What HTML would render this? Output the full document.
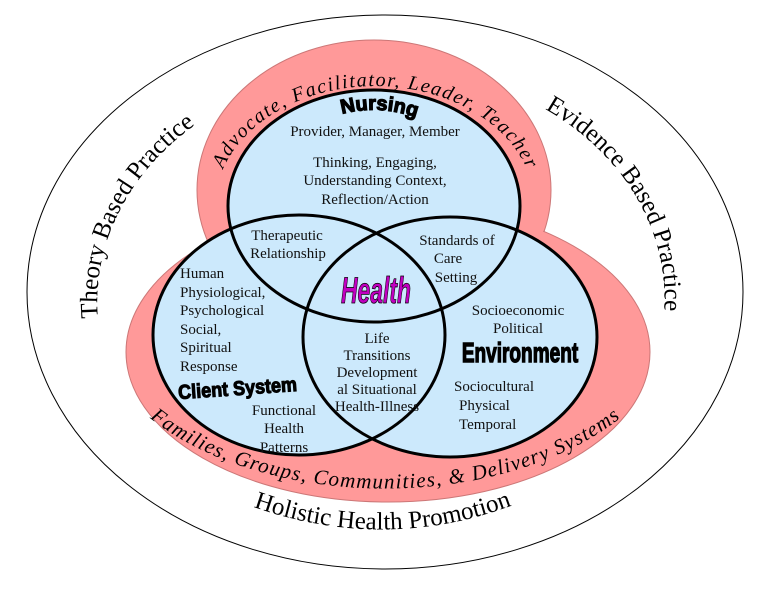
<!DOCTYPE html>
<html><head><meta charset="utf-8"><style>
html,body{margin:0;padding:0;background:#fff;}
svg{display:block;}
.t{font-family:"Liberation Serif",serif;font-size:15px;fill:#111;}
.s{font-family:"Liberation Serif",serif;font-style:italic;fill:#000;}
.o{font-family:"Liberation Serif",serif;font-size:25px;fill:#000;}
</style></head><body>
<svg width="757" height="601" viewBox="0 0 757 601" xmlns="http://www.w3.org/2000/svg">
<defs>
<path id="pAdv" d="M 217 188 A 160 121 0 0 1 533 188"/>
<path id="pTheory" d="M 102 345 A 285 235 0 0 1 218 110"/>
<path id="pEvid" d="M 528 100 A 275 230 0 0 1 662 330"/>
<path id="pHol" d="M 225 496 Q 385 564 540 494"/>
<path id="pFam" d="M 135 405 A 295 178 0 0 0 635 405"/>
<path id="pNur" d="M 330 118 Q 377 100 428 122"/>
</defs>
<ellipse cx="385" cy="292" rx="358" ry="277" fill="#fff" stroke="#000" stroke-width="1"/>
<ellipse cx="374" cy="190" rx="177" ry="150" fill="#f99" stroke="#c77" stroke-width="1"/>
<ellipse cx="388" cy="352" rx="262" ry="150" fill="#f99" stroke="#c77" stroke-width="1"/>
<ellipse cx="374" cy="190" rx="176" ry="149" fill="#f99"/>
<ellipse cx="374" cy="206" rx="146" ry="116" fill="#cce9fc"/>
<ellipse cx="299" cy="335" rx="146" ry="120" fill="#cce9fc"/>
<ellipse cx="450" cy="337" rx="147" ry="120" fill="#cce9fc"/>
<g fill="none" stroke="#000" stroke-width="3">
<ellipse cx="374" cy="206" rx="146" ry="116"/>
<ellipse cx="299" cy="335" rx="146" ry="120"/>
<ellipse cx="450" cy="337" rx="147" ry="120"/>
</g>

<text class="s" font-size="20"><textPath href="#pAdv" startOffset="50%" text-anchor="middle" textLength="365" lengthAdjust="spacing">Advocate, Facilitator, Leader, Teacher</textPath></text>
<text class="o"><textPath href="#pTheory" startOffset="50%" text-anchor="middle">Theory Based Practice</textPath></text>
<text class="o"><textPath href="#pEvid" startOffset="50%" text-anchor="middle">Evidence Based Practice</textPath></text>
<text class="o" font-size="26"><textPath href="#pHol" startOffset="50%" text-anchor="middle">Holistic Health Promotion</textPath></text>
<text class="s" font-size="21"><textPath href="#pFam" startOffset="50%" text-anchor="middle" textLength="500" lengthAdjust="spacing">Families, Groups, Communities, &amp; Delivery Systems</textPath></text>

<text font-family="Liberation Sans,sans-serif" font-weight="bold" font-size="20" stroke="#000" stroke-width="1.2" fill="#000"><textPath href="#pNur" startOffset="50%" text-anchor="middle">Nursing</textPath></text>

<g class="t" text-anchor="middle">
<text x="375" y="136">Provider, Manager, Member</text>
<text x="375" y="167">Thinking, Engaging,</text>
<text x="375" y="185">Understanding Context,</text>
<text x="375" y="204">Reflection/Action</text>
<text x="287" y="240">Therapeutic</text>
<text x="288" y="258">Relationship</text>
<text x="457" y="245">Standards of</text>
<text x="448" y="263">Care</text>
<text x="456" y="282">Setting</text>
<text x="284" y="415">Functional</text>
<text x="284" y="433">Health</text>
<text x="284" y="452">Patterns</text>
<text x="377" y="343">Life</text>
<text x="377" y="360">Transitions</text>
<text x="377" y="377">Development</text>
<text x="377" y="394">al Situational</text>
<text x="377" y="411">Health-Illness</text>
<text x="518" y="315">Socioeconomic</text>
<text x="518" y="333">Political</text>
</g>
<g class="t">
<text x="180" y="278">Human</text>
<text x="180" y="297">Physiological,</text>
<text x="180" y="315">Psychological</text>
<text x="180" y="334">Social,</text>
<text x="180" y="352">Spiritual</text>
<text x="180" y="371">Response</text>
<text x="454" y="391">Sociocultural</text>
<text x="459" y="410">Physical</text>
<text x="459" y="429">Temporal</text>
</g>

<text transform="translate(376,303) scale(0.62,1)" text-anchor="middle" font-family="Liberation Sans,sans-serif" font-weight="bold" font-style="italic" font-size="37" fill="#c000c0" stroke="#000" stroke-width="0.8">Health</text>
<text transform="translate(520,362) scale(0.68,1)" text-anchor="middle" font-family="Liberation Sans,sans-serif" font-weight="bold" font-size="28" fill="#000" stroke="#000" stroke-width="1.4">Environment</text>
<text transform="translate(238,395) rotate(-4) scale(0.9,1)" text-anchor="middle" font-family="Liberation Sans,sans-serif" font-weight="bold" font-size="20" fill="#000" stroke="#000" stroke-width="1.1">Client System</text>
</svg>
</body></html>
